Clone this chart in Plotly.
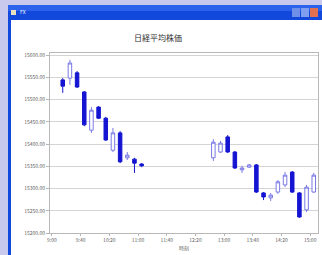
import plotly.graph_objects as go

W, H = 322, 255
DAY = "2008-01-01 "

# ---- data ----
times = ["09:15", "09:25", "09:35", "09:45", "09:55", "10:05", "10:15", "10:25",
         "10:35", "10:45", "10:55", "11:05",
         "12:45", "12:55", "13:05", "13:15", "13:25", "13:35", "13:45", "13:55",
         "14:05", "14:15", "14:25", "14:35", "14:45", "14:55", "15:05"]
opens  = [15544, 15548, 15560, 15517, 15431, 15483, 15458, 15386, 15425, 15369, 15366, 15355,
          15369, 15382, 15416, 15382, 15342, 15348, 15353, 15290, 15279, 15292, 15308, 15337,
          15290, 15252, 15292]
highs  = [15548, 15589, 15564, 15519, 15483, 15485, 15461, 15436, 15429, 15382, 15369, 15357,
          15411, 15407, 15420, 15384, 15351, 15355, 15355, 15292, 15290, 15319, 15337, 15339,
          15292, 15308, 15335]
lows   = [15515, 15533, 15526, 15440, 15425, 15456, 15407, 15382, 15357, 15364, 15335, 15348,
          15362, 15380, 15380, 15344, 15335, 15346, 15290, 15274, 15272, 15288, 15303, 15290,
          15234, 15247, 15290]
closes = [15530, 15582, 15528, 15443, 15476, 15458, 15409, 15425, 15360, 15375, 15357, 15351,
          15404, 15402, 15382, 15346, 15346, 15353, 15292, 15281, 15285, 15315, 15330, 15292,
          15236, 15303, 15330]

y_ticks = [15200, 15250, 15300, 15350, 15400, 15450, 15500, 15550, 15600]
y_labels = ["15200.00", "15250.00", "15300.00", "15350.00", "15400.00",
            "15450.00", "15500.00", "15550.00", "15600.00"]
x_ticks = ["09:00", "09:40", "10:20", "11:00", "11:40", "12:20", "13:00", "13:40", "14:20", "15:00"]
x_labels = ["9:00", "9:40", "10:20", "11:00", "11:40", "12:20", "13:00", "13:40", "14:20", "15:00"]

title = "日経平均株価"
x_title = "時刻"

# ---- layout geometry (pixels) ----
L, R, T, B = 50, 318, 53, 233


def px(x):
    return (x - L) / (R - L)


def py(y):
    return (B - y) / (B - T)


fig = go.Figure(go.Candlestick(
    x=[DAY + t for t in times],
    open=opens, high=highs, low=lows, close=closes,
    increasing=dict(line=dict(color="#7a7ae6", width=1), fillcolor="#ffffff"),
    decreasing=dict(line=dict(color="#1414d2", width=1), fillcolor="#1414d2"),
    whiskerwidth=0,
    showlegend=False,
))

shapes = []
# window frame
shapes.append(dict(type="rect", xref="paper", yref="paper",
                   x0=px(8), x1=px(330), y0=py(258), y1=py(5),
                   fillcolor="#1248dc", line=dict(width=0), layer="below"))
# title bar highlight
shapes.append(dict(type="rect", xref="paper", yref="paper",
                   x0=px(8), x1=px(330), y0=py(11), y1=py(5),
                   fillcolor="#2c62ec", line=dict(width=0), layer="below"))
# white client area
shapes.append(dict(type="rect", xref="paper", yref="paper",
                   x0=px(11), x1=px(330), y0=py(258), y1=py(20),
                   fillcolor="#ffffff", line=dict(width=0), layer="below"))
# title-bar icon
shapes.append(dict(type="rect", xref="paper", yref="paper",
                   x0=px(11), x1=px(16), y0=py(15), y1=py(10),
                   fillcolor="#e8e0c0", line=dict(width=0), layer="below"))
# window buttons
for x0, col in [(292, "#6f8fe8"), (301, "#7f9ef0"), (310, "#e07050")]:
    shapes.append(dict(type="rect", xref="paper", yref="paper",
                       x0=px(x0), x1=px(x0 + 8), y0=py(17), y1=py(8),
                       fillcolor=col, line=dict(width=0), layer="below"))

fig.update_layout(
    width=W, height=H,
    margin=dict(l=L, r=W - R, t=T, b=H - B, pad=0),
    paper_bgcolor="#c9c9ee",
    plot_bgcolor="#ffffff",
    font=dict(family="Noto Sans CJK JP, DejaVu Sans", size=5, color="#606060"),
    shapes=shapes,
    annotations=[
        dict(text=title, xref="paper", yref="paper", x=px(158), y=py(37),
             showarrow=False, font=dict(size=8, color="#303030"),
             xanchor="center", yanchor="middle"),
        dict(text=x_title, xref="paper", yref="paper", x=px(184), y=py(248),
             showarrow=False, font=dict(size=5, color="#606060"),
             xanchor="center", yanchor="middle"),
        dict(text="FX", xref="paper", yref="paper", x=px(18), y=py(12),
             showarrow=False, font=dict(size=5, color="#ffffff"),
             xanchor="left", yanchor="middle"),
    ],
    xaxis=dict(
        type="date",
        range=[DAY + "08:57:14", DAY + "15:10:56"],
        tickvals=[DAY + t for t in x_ticks],
        ticktext=x_labels,
        showgrid=False,
        showline=True, linecolor="#b8b8b8", linewidth=1, mirror=True,
        ticks="outside", ticklen=2, tickcolor="#b8b8b8",
        rangeslider=dict(visible=False),
        tickfont=dict(size=5, color="#606060"),
        zeroline=False,
    ),
    yaxis=dict(
        range=[15200, 15604.5],
        tickvals=y_ticks,
        ticktext=y_labels,
        showgrid=True, gridcolor="#d4d4d4", gridwidth=1,
        showline=True, linecolor="#b8b8b8", linewidth=1, mirror=True,
        ticks="outside", ticklen=3, tickcolor="#b8b8b8",
        tickfont=dict(size=5, color="#606060"),
        zeroline=False,
    ),
)

fig.write_html(
    "out.html",
    config={"displayModeBar": False},
    post_script="document.body.style.margin='0';document.body.style.overflow='hidden';"
                "document.body.style.background='#c9c9ee';",
)
